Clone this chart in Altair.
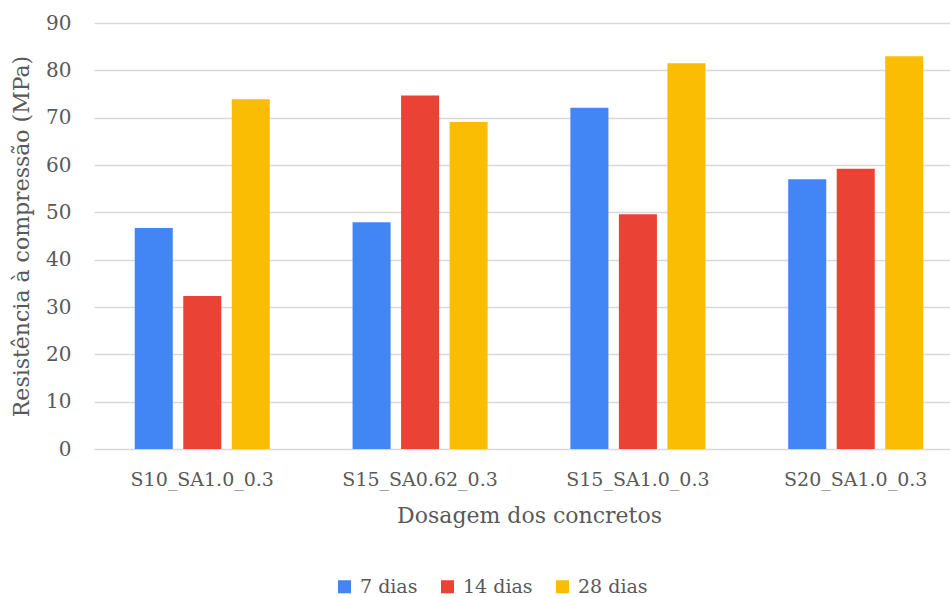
import altair as alt
import pandas as pd

# Compressive strength by concrete mix and curing age
dosagens = ["S10_SA1.0_0.3", "S15_SA0.62_0.3", "S15_SA1.0_0.3", "S20_SA1.0_0.3"]
idades = ["7 dias", "14 dias", "28 dias"]
dias_7 = [46.7, 47.9, 72.1, 57.0]
dias_14 = [32.3, 74.7, 49.6, 59.2]
dias_28 = [73.9, 69.1, 81.5, 83.0]
cores = ["#4285F4", "#EA4335", "#FBBC04"]

rows = []
for serie, valores in zip(idades, [dias_7, dias_14, dias_28]):
    for d, v in zip(dosagens, valores):
        rows.append({"Dosagem": d, "Idade": serie, "Resistencia": v})
df = pd.DataFrame(rows)

FONT = "DejaVu Serif"
GRAY = "#595959"

chart = (
    alt.Chart(df)
    .mark_bar()
    .encode(
        x=alt.X(
            "Dosagem:N",
            sort=dosagens,
            title="Dosagem dos concretos",
            scale=alt.Scale(range=[0, 870], paddingInner=0.38, paddingOuter=0.187),
            axis=alt.Axis(
                labelAngle=0,
                labelFontSize=19,
                labelPadding=21,
                titleFontSize=22,
                titlePadding=16,
                ticks=False,
                domain=False,
            ),
        ),
        xOffset=alt.XOffset(
            "Idade:N", sort=idades, scale=alt.Scale(paddingInner=0.216, paddingOuter=0.0)
        ),
        y=alt.Y(
            "Resistencia:Q",
            title="Resistência à compressão (MPa)",
            scale=alt.Scale(domain=[0, 90], nice=False),
            axis=alt.Axis(
                values=list(range(0, 91, 10)),
                labelFontSize=20,
                labelPadding=23,
                titleFontSize=22,
                titlePadding=12,
                ticks=False,
                domain=False,
                gridColor="#d9d9d9",
                gridWidth=1.5,
            ),
        ),
        color=alt.Color(
            "Idade:N",
            sort=idades,
            scale=alt.Scale(domain=idades, range=cores),
            legend=alt.Legend(
                title=None,
                orient="none",
                direction="horizontal",
                legendX=241,
                legendY=554,
                symbolType="square",
                symbolSize=170,
                symbolStrokeWidth=0,
                labelFontSize=19,
                columnPadding=20,
                labelOffset=6,
            ),
        ),
    )
    .properties(width=856, height=426)
    .configure(font=FONT)
    .configure_axis(labelColor=GRAY, titleColor=GRAY, labelFont=FONT, titleFont=FONT, titleFontWeight="normal")
    .configure_legend(labelColor=GRAY, labelFont=FONT)
    .configure_view(stroke=None)
    .properties(
        autosize=alt.AutoSizeParams(type="none"),
        padding={"left": 94, "top": 23, "right": 0, "bottom": 148},
    )
)

chart.save("out.html", embed_options={"renderer": "svg", "actions": False})
